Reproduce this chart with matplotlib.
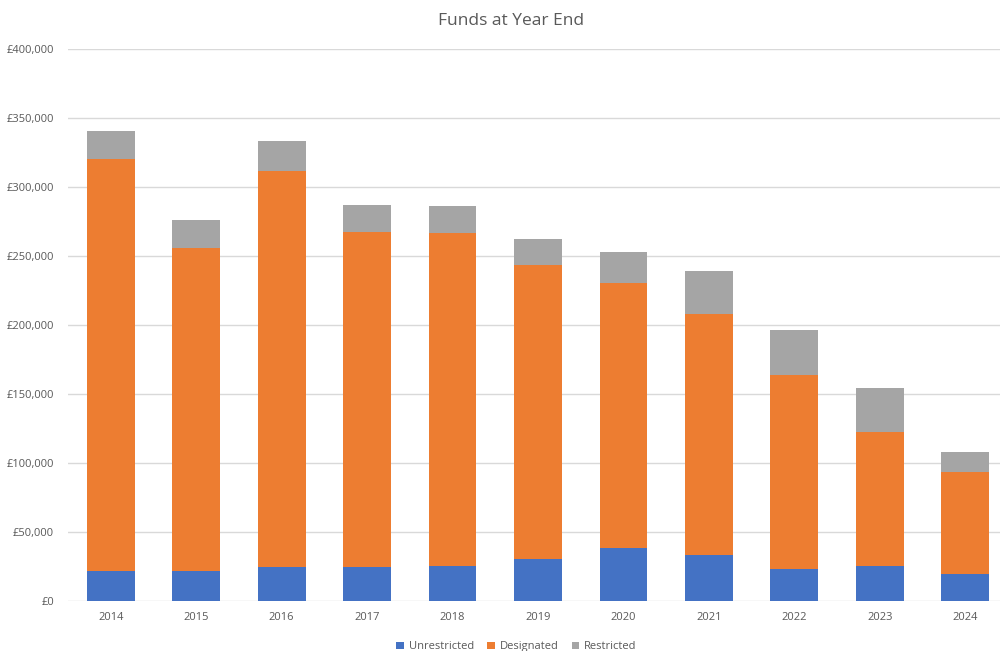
import matplotlib.pyplot as plt
from matplotlib.ticker import FuncFormatter
import numpy as np

years = ['2014', '2015', '2016', '2017', '2018', '2019', '2020', '2021', '2022', '2023', '2024']
unrestricted = [21400, 21400, 24500, 24500, 25200, 30100, 38600, 33500, 23500, 25200, 19400]
designated = [299300, 234600, 287200, 243200, 241800, 213700, 191700, 174800, 140400, 97100, 74100]
restricted = [20300, 20000, 22000, 19600, 19400, 18400, 22700, 31200, 32300, 32100, 14300]

plt.rcParams['font.family'] = ['Open Sans', 'DejaVu Sans']

fig = plt.figure(figsize=(10, 6.51), dpi=100)
ax = fig.add_axes([0.068, 0.0768, 0.94, 0.8475])

x = np.arange(len(years))
w = 0.56
u = np.array(unrestricted)
d = np.array(designated)
r = np.array(restricted)
ax.bar(x, u, w, color='#4472C4', label='Unrestricted', zorder=2)
ax.bar(x, d, w, bottom=u, color='#ED7D31', label='Designated', zorder=2)
ax.bar(x, r, w, bottom=u + d, color='#A5A5A5', label='Restricted', zorder=2)

ax.set_ylim(0, 400000)
ax.set_xlim(-0.5, len(years) - 0.5)
ax.set_yticks(np.arange(0, 400001, 50000))
ax.yaxis.set_major_formatter(FuncFormatter(lambda v, p: f'£{v:,.0f}'))
ax.set_xticks(x)
ax.set_xticklabels(years)
ax.grid(axis='y', color='#d9d9d9', linewidth=1, zorder=0)
for s in ax.spines.values():
    s.set_visible(False)
ax.tick_params(length=0, labelsize=8, colors='#595959', pad=8)
ax.tick_params(axis='y', pad=10)

fig.text(0.511, 0.968, 'Funds at Year End', ha='center', va='center', fontsize=12.5, color='#595959')
ax.legend(loc='center', bbox_to_anchor=(0.477, -0.083), ncol=3, frameon=False, fontsize=8,
          handlelength=0.7, handleheight=0.7, handletextpad=0.4, columnspacing=1.2,
          labelcolor='#595959')

fig.savefig('out.png', dpi=100)
